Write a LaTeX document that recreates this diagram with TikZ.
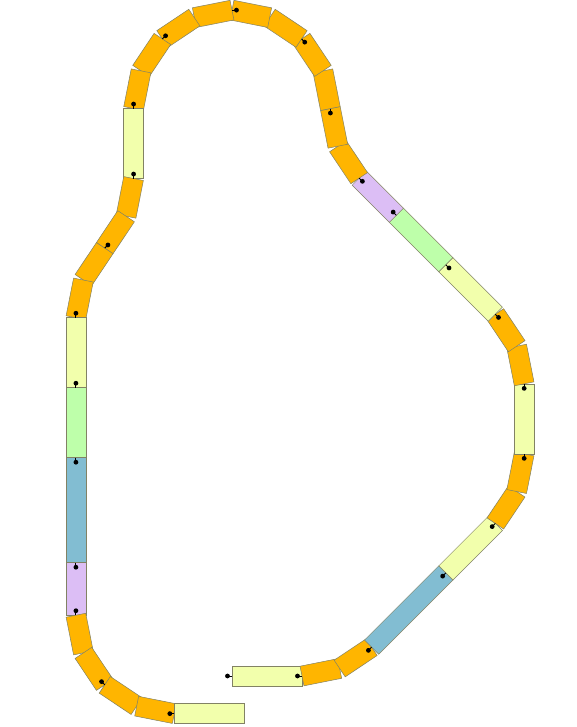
\documentclass[tikz,border=0pt]{standalone}
\definecolor{tora}{RGB}{255,181,0}
\definecolor{tyel}{RGB}{242,255,172}
\definecolor{tgrn}{RGB}{190,255,170}
\definecolor{tblu}{RGB}{130,189,210}
\definecolor{tpur}{RGB}{220,190,245}
\definecolor{tedge}{RGB}{130,130,100}
\begin{document}
\begin{tikzpicture}[
  x=1pt, y=-1pt,
  piece/.style = {draw=tedge, line width=0.5pt, minimum height=20pt,
                  inner sep=0pt, outer sep=0pt},
  pinstem/.style = {line width=0.9pt, black},
]
\fill[white] (0,0) rectangle (577,727);
\useasboundingbox (0,0) rectangle (577,727);

%% ── Track pieces: kind / length / turn / pin (-1 behind, 1 ahead, 0 none) ──
\gdef\curx{232}\gdef\cury{676}\gdef\curh{0}
\foreach \kind/\plen/\pturn/\ppin [count=\i] in {
    tyel/70/0/-1, tora/38.4/22.5/-1, tora/38.4/22.5/0,
    tblu/105/0/-1, tyel/70/0/-1,
    tora/38.4/22.5/-1, tora/38.4/22.5/0, tyel/70/0/-1,
    tora/38.4/22.5/-1, tora/38.4/22.5/0,
    tyel/70/0/-1, tgrn/70/0/-1, tpur/52.5/0/1,
    tora/38.4/-22.5/-1, tora/38.4/-22.5/0,
    tora/38.4/22.5/-1, tora/38.4/22.5/0, tora/38.4/22.5/-1, tora/38.4/22.5/0,
    tora/38.4/22.5/-1, tora/38.4/22.5/0, tora/38.4/22.5/-1, tora/38.4/22.5/0,
    tyel/70/0/-1,
    tora/38.4/-22.5/-1, tora/38.4/-22.5/0, tora/38.4/22.5/-1, tora/38.4/22.5/0,
    tyel/70/0/-1, tgrn/70/0/-1, tblu/105/0/1, tpur/52.5/0/1,
    tora/38.4/22.5/-1, tora/38.4/22.5/0, tora/38.4/22.5/-1, tora/38.4/22.5/0,
    tyel/70/0/-1}
{
  \pgfmathsetmacro\chh{\curh+\pturn/2}
  \pgfmathsetmacro\nx{\curx+\plen*cos(\chh)}
  \pgfmathsetmacro\ny{\cury-\plen*sin(\chh)}
  \coordinate (j\i) at (\curx,\cury);
  \node[piece, fill=\kind, minimum width=\plen pt, rotate=\chh] (p\i)
    at ({(\curx+\nx)/2},{(\cury+\ny)/2}) {};
  \ifnum\ppin=0\else
    \pgfmathsetmacro\dx{\curx+\ppin*4.5*cos(\curh)}
    \pgfmathsetmacro\dy{\cury-\ppin*4.5*sin(\curh)}
    \coordinate (k\i) at (\dx,\dy);
    \draw[pinstem] (j\i) -- (k\i);
    \fill (k\i) circle (2.4pt);
  \fi
  \pgfmathsetmacro\nh{\curh+\pturn}
  \xdef\curx{\nx}\xdef\cury{\ny}\xdef\curh{\nh}
}

\end{tikzpicture}
\end{document}
